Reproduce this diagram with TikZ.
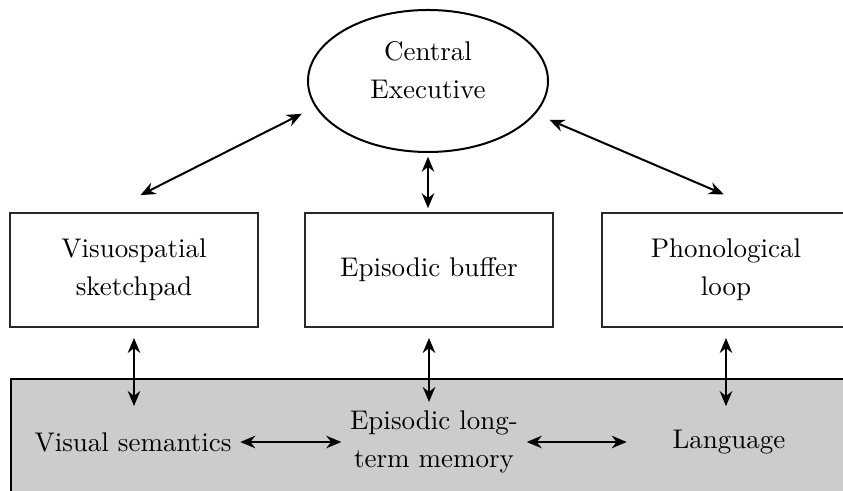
\documentclass[tikz,border=0pt]{standalone}
\usepackage{tikz}
\usetikzlibrary{arrows.meta,shapes.geometric}
\definecolor{BandGray}{RGB}{204,204,204}
\definecolor{EdgeDark}{RGB}{40,40,40}
\tikzset{
  membox/.style={rectangle, draw=EdgeDark, fill=white, line width=0.8pt,
                 minimum width=99.2pt, minimum height=45.6pt, align=center,
                 font=\fontsize{10.8}{15.2}\selectfont},
  lbl/.style={align=center, font=\fontsize{10.8}{15.2}\selectfont},
  arr/.style={{Stealth[length=6pt,width=5pt]}-{Stealth[length=6pt,width=5pt]},
              line width=0.8pt},
}

\begin{document}
\begin{tikzpicture}[x=0.4pt,y=-0.4pt]
  \clip (0,0) rectangle (843,491);
  % long-term store band
  \fill[BandGray] (11,379) rectangle (870,520);
  \draw[line width=0.8pt] (870,379) -- (11,379) -- (11,520);

  \node[ellipse, draw, line width=0.8pt, minimum width=96pt, minimum height=56.8pt,
        inner sep=0pt, align=center, text depth=9pt,
        font=\fontsize{10.8}{15.2}\selectfont]
        (ce) at (428,81) {Central\\Executive};
  \node[membox] (vsp) at (134,270) {Visuospatial\\sketchpad};
  \node[membox] (epb) at (429,270) {Episodic buffer};
  \node[membox] (phl) at (726,270) {Phonological\\loop};

  \node[lbl] (vis) at (133,442) {Visual semantics};
  \node[lbl] (eltm) at (434,442) {Episodic long-\\term memory};
  \node[lbl] (lang) at (729,442) {Language};

  \draw[arr, shorten <=15pt, shorten >=6pt] (vsp.115) -- (ce.193);
  \draw[arr, shorten <=18pt, shorten >=6pt] (phl.56) -- (ce.343);
  \draw[arr, shorten <=1.5pt, shorten >=1.5pt] (ce.south) -- (ce.south |- epb.north);

  \draw[arr, shorten <=4pt, shorten >=7pt] (vsp.south) -- (vsp.south |- vis.north);
  \draw[arr, shorten <=4pt] (epb.south) -- (epb.south |- eltm.north);
  \draw[arr, shorten <=4pt, shorten >=6pt] (phl.south) -- (phl.south |- lang.north);

  \draw[arr] (vis.east) -- (eltm.west);
  \draw[arr, shorten >=14.8pt] (eltm.east) -- (lang.west);
\end{tikzpicture}
\end{document}
